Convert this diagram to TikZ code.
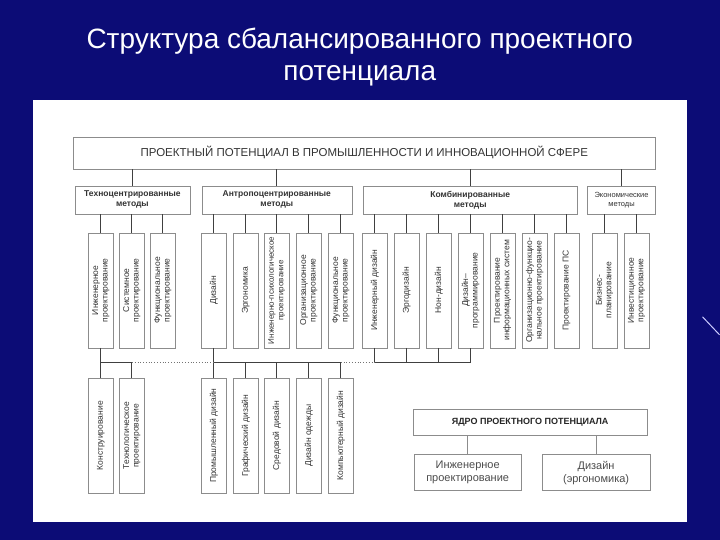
\documentclass[tikz,border=0pt]{standalone}
\usepackage{fontspec}
\setmainfont{Liberation Sans}
\usetikzlibrary{positioning}
\definecolor{slide}{RGB}{12,12,118}
\definecolor{rama}{RGB}{140,140,140}
\tikzset{
  titul/.style = {text=white, align=center, font=\fontsize{28}{32}\selectfont},
  zag/.style   = {rectangle, draw=rama, fill=white, minimum width=583pt, minimum height=32pt, font=\fontsize{11.5}{13}\selectfont, text=black!80},
  metod/.style = {rectangle, draw=rama, fill=white, minimum height=28pt, align=center, font=\fontsize{8.5}{10}\selectfont\bfseries, text=black!80},
  vert/.style  = {rectangle, draw=rama, fill=white, rotate=90, minimum width=115pt, minimum height=25pt, inner sep=1pt, align=center, font=\fontsize{8.5}{9.5}\selectfont, text=black!80},
  niz/.style   = {vert, minimum width=116pt},
  yadro/.style = {rectangle, draw=rama, fill=white, minimum width=235pt, minimum height=27pt, font=\fontsize{9}{10}\selectfont\bfseries, text=black!85},
  itog/.style  = {rectangle, draw=rama, fill=white, minimum width=108pt, minimum height=36pt, align=center, font=\fontsize{11}{13}\selectfont, text=black!70},
  link/.style  = {draw=black!75, line width=0.9pt},
  punkt/.style = {draw=black!55, dotted, line width=0.8pt},
  blik/.style  = {draw=blue!20!white, line width=1pt}
}

\begin{document}
\begin{tikzpicture}[x=1pt, y=-1pt]

  % фон слайда
  \fill[slide] (0,0) rectangle (720,540);
  \fill[white] (33,100) rectangle (687,522);
  \draw[blik] (703,317) -- (720,335);
  \node[titul] (tit) at (360,57) {Структура сбалансированного проектного\\потенциала};

  % верхний блок
  \node[zag] (pp) at (364.5,153) {ПРОЕКТНЫЙ ПОТЕНЦИАЛ В ПРОМЫШЛЕННОСТИ И ИННОВАЦИОННОЙ СФЕРЕ};

  % группы методов
  \node[metod, minimum width=115pt] (tc) at (132.5,200) {Техноцентрированные\\методы};   \draw[link] (pp.south -| tc) -- (tc.north);
  \node[metod, minimum width=150pt] (ac) at (277,200)   {Антропоцентрированные\\методы}; \draw[link] (pp.south -| ac) -- (ac.north);
  \node[metod, minimum width=215pt] (km) at (470.5,200) {Комбинированные\\методы};       \draw[link] (pp.south -| km) -- (km.north);
  \node[metod, minimum width=68pt, font=\fontsize{7.5}{9}\selectfont] (ek) at (622,200) {Экономические\\методы}; \draw[link] (pp.south -| ek) -- (ek.north);

  % техноцентрированные
  \node[vert] (v1) at (101,290.5) {Инженерное\\проектирование};    \draw[link] (tc.south -| v1) -- (v1.east);
  \node[vert] (v2) at (132,290.5) {Системное\\проектирование};     \draw[link] (tc.south -| v2) -- (v2.east);
  \node[vert] (v3) at (163,290.5) {Функциональное\\проектирование}; \draw[link] (tc.south -| v3) -- (v3.east);

  % антропоцентрированные
  \node[vert] (v4) at (214,290.5) {Дизайн};                                  \draw[link] (ac.south -| v4) -- (v4.east);
  \node[vert] (v5) at (246,290.5) {Эргономика};                              \draw[link] (ac.south -| v5) -- (v5.east);
  \node[vert, font=\fontsize{8}{9.5}\selectfont] (v6) at (277,290.5) {Инженерно-психологическое\\проектирование}; \draw[link] (ac.south -| v6) -- (v6.east);
  \node[vert] (v7) at (309,290.5) {Организационное\\проектирование};         \draw[link] (ac.south -| v7) -- (v7.east);
  \node[vert] (v8) at (341,290.5) {Функциональное\\проектирование};          \draw[link] (ac.south -| v8) -- (v8.east);

  % комбинированные
  \node[vert] (v9)  at (375,290.5) {Инженерный дизайн};                            \draw[link] (km.south -| v9)  -- (v9.east);
  \node[vert] (v10) at (407,290.5) {Эргодизайн};                                   \draw[link] (km.south -| v10) -- (v10.east);
  \node[vert] (v11) at (439,290.5) {Нон-дизайн};                                   \draw[link] (km.south -| v11) -- (v11.east);
  \node[vert] (v12) at (471,290.5) {Дизайн--\\программирование};                   \draw[link] (km.south -| v12) -- (v12.east);
  \node[vert] (v13) at (503,290.5) {Проектирование\\информационных систем};        \draw[link] (km.south -| v13) -- (v13.east);
  \node[vert] (v14) at (535,290.5) {Организационно-функцио-\\нальное проектирование}; \draw[link] (km.south -| v14) -- (v14.east);
  \node[vert] (v15) at (567,290.5) {Проектирование ПС};                            \draw[link] (km.south -| v15) -- (v15.east);

  % экономические
  \node[vert] (v16) at (605,290.5) {Бизнес-\\планирование};             \draw[link] (ek.south -| v16) -- (v16.east);
  \node[vert] (v17) at (637,290.5) {Инвестиционное\\проектирование};    \draw[link] (ek.south -| v17) -- (v17.east);

  % нижний ряд
  \coordinate (j1) at (101,363);
  \node[niz] (b1) at (101,436) {Конструирование};                   \draw[link] (v1.west) -- (b1.east);
  \node[niz] (b2) at (132,436) {Технологическое\\проектирование};   \draw[link] (j1) -| (b2.east);
  \node[niz] (b3) at (214,436) {Промышленный дизайн};               \draw[link] (v4.west) -- (b3.east);
  \node[niz] (b4) at (246,436) {Графический дизайн};                \draw[link] (b4.east |- j1) -- (b4.east);
  \node[niz] (b5) at (277,436) {Средовой дизайн};                   \draw[link] (b5.east |- j1) -- (b5.east);
  \node[niz] (b6) at (309,436) {Дизайн одежды};                     \draw[link] (b6.east |- j1) -- (b6.east);
  \node[niz] (b7) at (341,436) {Компьютерный дизайн};               \draw[link] (b7.east |- j1) -- (b7.east);
  \draw[link] (b3.east |- j1) -- (b7.east |- j1);
  \draw[link] (v9.west) |- (v12.west |- j1) -- (v12.west);
  \draw[link] (v10.west) -- (v10.west |- j1);
  \draw[link] (v11.west) -- (v11.west |- j1);
  \draw[punkt] (b2.east |- j1) -- (b3.east |- j1);
  \draw[punkt] (b7.east |- j1) -- (v9.west |- j1);

  % ядро
  \node[yadro] (ya) at (530.5,422.5) {ЯДРО ПРОЕКТНОГО ПОТЕНЦИАЛА};
  \node[itog] (ip) at (468,473)   {Инженерное\\проектирование}; \draw[link, draw=black!45] (ya.south -| ip) -- (ip.north);
  \node[itog] (dz) at (596.5,473) {Дизайн\\(эргономика)};       \draw[link, draw=black!45] (ya.south -| dz) -- (dz.north);

\end{tikzpicture}
\end{document}
